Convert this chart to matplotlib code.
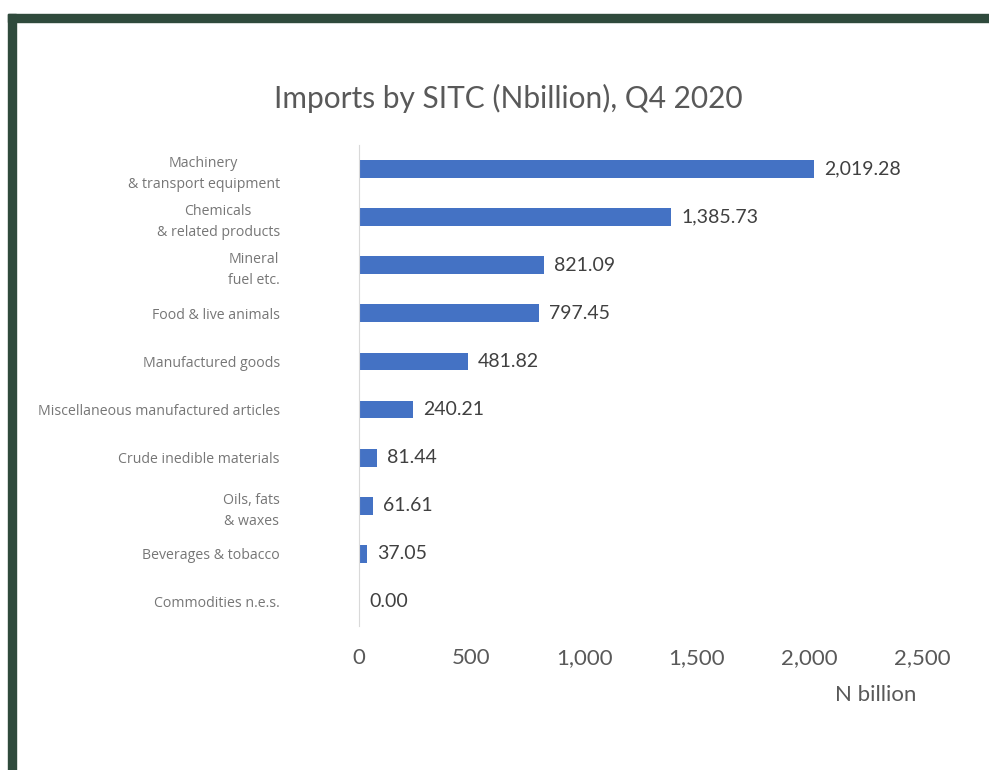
import matplotlib.pyplot as plt
from matplotlib.patches import Rectangle

plt.rcParams['font.family'] = ['Lato', 'DejaVu Sans']

categories = [
    'Machinery\n& transport equipment',
    'Chemicals\n& related products',
    'Mineral\nfuel etc.',
    'Food & live animals',
    'Manufactured goods',
    'Miscellaneous manufactured articles',
    'Crude inedible materials',
    'Oils, fats\n& waxes',
    'Beverages & tobacco',
    'Commodities n.e.s.',
]
values = [2019.28, 1385.73, 821.09, 797.45, 481.82, 240.21, 81.44, 61.61, 37.05, 0.00]
xticks = [0, 500, 1000, 1500, 2000, 2500]

bar_color = '#4472c4'
text_grey = '#595959'

fig = plt.figure(figsize=(9.89, 7.70), dpi=100)

# dark green frame on top and left
fig.patches.append(Rectangle((8 / 989, 0), 8 / 989, 1 - 14 / 770, transform=fig.transFigure,
                             color='#2f4a3c', zorder=0))
fig.patches.append(Rectangle((8 / 989, 1 - 22 / 770), 1, 8 / 770, transform=fig.transFigure,
                             color='#2f4a3c', zorder=0))

ax = fig.add_axes([359 / 989, 1 - 626 / 770, 563 / 989, 481 / 770])

y = list(range(len(categories)))
ax.barh(y, values, height=0.37, color=bar_color)
ax.set_ylim(len(categories) - 0.5, -0.5)
ax.set_xlim(0, 2500)

for yi, v in zip(y, values):
    ax.text(v + 45, yi, f'{v:,.2f}', va='center', ha='left', fontsize=14, color='#404040')

ax.set_yticks(y)
ax.set_yticklabels(categories, fontsize=10.2, color='#767676', multialignment='center',
                   linespacing=1.55, family=['Open Sans', 'DejaVu Sans'])
ax.set_xticks(xticks)
ax.set_xticklabels([f'{t:,}' for t in xticks], fontsize=16, color=text_grey)
ax.tick_params(axis='y', length=0, pad=57)
ax.tick_params(axis='x', length=0, pad=16)

for side in ['top', 'right', 'bottom']:
    ax.spines[side].set_visible(False)
ax.spines['left'].set_color('#d9d9d9')

fig.text(508 / 989, 1 - 98 / 770, 'Imports by SITC (Nbillion), Q4 2020', ha='center', va='center',
         fontsize=21.5, color=text_grey)
fig.text(876 / 989, 1 - 695 / 770, 'N billion', ha='center', va='center', fontsize=16, color=text_grey)

fig.savefig('out.png', dpi=100)
